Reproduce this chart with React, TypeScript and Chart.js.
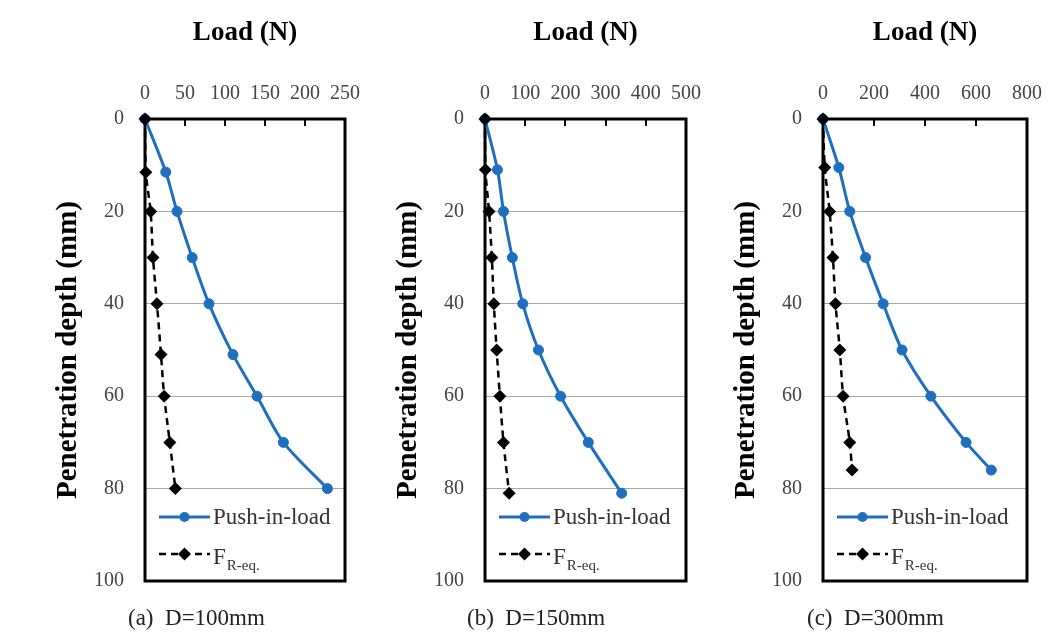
import React, { useEffect, useRef } from 'react';
import { Chart, registerables } from 'chart.js';

Chart.register(...registerables);

// ---------- data ----------
const depthTicks = [0, 20, 40, 60, 80, 100];

const loadTicksA = [0, 50, 100, 150, 200, 250];
const pushDepthA = [0, 11.5, 20, 30, 40, 51, 60, 70, 80];
const pushLoadA = [0, 26, 40, 59, 80, 110, 140, 173, 228];
const frDepthA = [0, 11.5, 20, 30, 40, 51, 60, 70, 80];
const frLoadA = [0, 1, 7, 10, 15, 20, 24, 31, 38];

const loadTicksB = [0, 100, 200, 300, 400, 500];
const pushDepthB = [0, 11, 20, 30, 40, 50, 60, 70, 81];
const pushLoadB = [0, 31, 46, 68, 94, 133, 188, 257, 340];
const frDepthB = [0, 11, 20, 30, 40, 50, 60, 70, 81];
const frLoadB = [0, 1, 10, 17, 22, 29, 37, 46, 60];

const loadTicksC = [0, 200, 400, 600, 800];
const pushDepthC = [0, 10.5, 20, 30, 40, 50, 60, 70, 76];
const pushLoadC = [0, 62, 105, 167, 236, 310, 423, 561, 660];
const frDepthC = [0, 10.5, 20, 30, 40, 50, 60, 70, 76];
const frLoadC = [0, 7, 26, 39, 49, 66, 79, 105, 114];

const captions = ['(a)  D=100mm', '(b)  D=150mm', '(c)  D=300mm'];
const xTitle = 'Load (N)';
const yTitle = 'Penetration depth (mm)';
const pushLabel = 'Push-in-load';
const frLabel = 'F';
const frLabelSub = 'R-eq.';

// ---------- styles / layout ----------
const W = 1051;
const H = 643;
const CW = 1120; // canvas width (wider than page so edge labels never squeeze the plot)
const SERIF = "'Liberation Serif', 'Times New Roman', serif";
const BLUE = '#1F6FBF';
const PLOT_TOP = 119;
const PLOT_BOTTOM = 581;

const layouts = [
  { left: 145, right: 345, captionLeft: 128 },
  { left: 485, right: 686, captionLeft: 467 },
  { left: 823, right: 1027, captionLeft: 807 },
];

const panelData = [
  { loadTicks: loadTicksA, pushDepth: pushDepthA, pushLoad: pushLoadA, frDepth: frDepthA, frLoad: frLoadA },
  { loadTicks: loadTicksB, pushDepth: pushDepthB, pushLoad: pushLoadB, frDepth: frDepthB, frLoad: frLoadB },
  { loadTicks: loadTicksC, pushDepth: pushDepthC, pushLoad: pushLoadC, frDepth: frDepthC, frLoad: frLoadC },
];

const framePlugin = {
  id: 'frameAndLegend',
  beforeDatasetsDraw(chart: any) {
    const { ctx, chartArea } = chart;
    const { left, right, top, bottom } = chartArea;
    const xs = chart.scales.x;
    ctx.save();
    ctx.strokeStyle = '#000';
    ctx.lineWidth = 3;
    ctx.strokeRect(left, top, right - left, bottom - top);
    ctx.lineWidth = 2;
    ctx.beginPath();
    xs.ticks.forEach((t: any) => {
      if (t.value > xs.min && t.value < xs.max) {
        const px = Math.round(xs.getPixelForValue(t.value));
        ctx.moveTo(px, top);
        ctx.lineTo(px, top + 7);
      }
    });
    ctx.stroke();
    ctx.restore();
  },
  afterDatasetsDraw(chart: any) {
    const { ctx, chartArea } = chart;
    const { left, top } = chartArea;
    const x0 = left + 14;
    const x1 = left + 65;
    const xc = (x0 + x1) / 2;
    const tx = left + 68;
    const y1 = top + 398;
    const y2 = top + 435;
    ctx.save();
    // row 1
    ctx.strokeStyle = BLUE;
    ctx.lineWidth = 3;
    ctx.setLineDash([]);
    ctx.beginPath();
    ctx.moveTo(x0, y1);
    ctx.lineTo(x1, y1);
    ctx.stroke();
    ctx.fillStyle = BLUE;
    ctx.beginPath();
    ctx.arc(xc, y1, 5, 0, Math.PI * 2);
    ctx.fill();
    ctx.fillStyle = '#333';
    ctx.font = `23px ${SERIF}`;
    ctx.textBaseline = 'middle';
    ctx.textAlign = 'left';
    ctx.fillText(pushLabel, tx, y1 + 1);
    // row 2
    ctx.strokeStyle = '#000';
    ctx.lineWidth = 2.5;
    ctx.setLineDash([7, 5]);
    ctx.beginPath();
    ctx.moveTo(x0, y2);
    ctx.lineTo(x1, y2);
    ctx.stroke();
    ctx.setLineDash([]);
    ctx.fillStyle = '#000';
    const r = 6.5;
    ctx.beginPath();
    ctx.moveTo(xc, y2 - r);
    ctx.lineTo(xc + r, y2);
    ctx.lineTo(xc, y2 + r);
    ctx.lineTo(xc - r, y2);
    ctx.closePath();
    ctx.fill();
    ctx.fillStyle = '#333';
    ctx.font = `23px ${SERIF}`;
    ctx.textBaseline = 'alphabetic';
    ctx.fillText(frLabel, tx, y2 + 10);
    const fw = ctx.measureText(frLabel).width;
    ctx.font = `15px ${SERIF}`;
    ctx.fillText(frLabelSub, tx + fw + 1, y2 + 16);
    ctx.restore();
  },
};

function Panel({ idx }: { idx: number }) {
  const ref = useRef<HTMLCanvasElement | null>(null);
  useEffect(() => {
    const lay = layouts[idx];
    const d = panelData[idx];
    const loadTicks = d.loadTicks;
    const chart = new Chart(ref.current as HTMLCanvasElement, {
      type: 'line',
      data: {
        datasets: [
          {
            label: pushLabel,
            data: d.pushLoad.map((v, i) => ({ x: v, y: d.pushDepth[i] })),
            borderColor: BLUE,
            backgroundColor: BLUE,
            borderWidth: 3,
            pointRadius: 5,
            pointBorderWidth: 1,
            pointStyle: 'circle',
            tension: 0.3,
            clip: false as any,
            order: 1,
          },
          {
            label: frLabel + frLabelSub,
            data: d.frLoad.map((v, i) => ({ x: v, y: d.frDepth[i] })),
            borderColor: '#000',
            backgroundColor: '#000',
            borderWidth: 2.5,
            borderDash: [7, 5],
            pointRadius: 6.5,
            pointBorderWidth: 0,
            pointStyle: 'rectRot',
            tension: 0.3,
            clip: false as any,
            order: 0,
          },
        ],
      },
      options: {
        animation: false,
        responsive: false,
        layout: {
          padding: { left: lay.left - 105, right: CW - lay.right, top: 0, bottom: H - PLOT_BOTTOM },
        },
        scales: {
          x: {
            type: 'linear',
            position: 'top',
            min: loadTicks[0],
            max: loadTicks[loadTicks.length - 1],
            afterBuildTicks: (s: any) => {
              s.ticks = loadTicks.map((v) => ({ value: v }));
            },
            afterFit: (s: any) => {
              s.height = PLOT_TOP;
            },
            grid: { display: false, drawTicks: false },
            border: { display: false },
            ticks: { padding: 13, color: '#444', font: { family: SERIF, size: 20 }, maxRotation: 0 },
            title: {
              display: true,
              text: xTitle,
              color: '#000',
              font: { family: SERIF, size: 27, weight: 'bold' },
              padding: { top: 17, bottom: 0 },
            },
          },
          y: {
            type: 'linear',
            reverse: true,
            min: 0,
            max: 100,
            afterBuildTicks: (s: any) => {
              s.ticks = depthTicks.map((v) => ({ value: v }));
            },
            afterFit: (s: any) => {
              s.width = 105;
            },
            grid: { color: '#a8a8a8', lineWidth: 1, drawTicks: false },
            border: { display: false },
            ticks: { padding: 21, color: '#444', font: { family: SERIF, size: 20 } },
            title: {
              display: true,
              text: yTitle,
              color: '#000',
              font: { family: SERIF, size: 29, weight: 'bold' },
              padding: { top: 11, bottom: 0 },
            },
          },
        },
        plugins: {
          legend: { display: false },
          tooltip: { enabled: false },
        },
      } as any,
      plugins: [framePlugin],
    });
    return () => chart.destroy();
  }, [idx]);
  return (
    <canvas
      ref={ref}
      width={CW}
      height={H}
      style={{ position: 'absolute', left: 0, top: 0, width: CW, height: H }}
    />
  );
}

export default function App() {
  return (
    <div style={{ position: 'absolute', left: 0, top: 0, width: W, height: H, background: '#fff', overflow: 'hidden' }}>
      {[0, 1, 2].map((i) => (
        <Panel key={i} idx={i} />
      ))}
      {captions.map((c, i) => (
        <div
          key={c}
          style={{
            position: 'absolute',
            left: layouts[i].captionLeft,
            top: 606,
            fontFamily: SERIF,
            fontSize: 23,
            lineHeight: '23px',
            color: '#222',
            whiteSpace: 'pre',
          }}
        >
          {c}
        </div>
      ))}
    </div>
  );
}
